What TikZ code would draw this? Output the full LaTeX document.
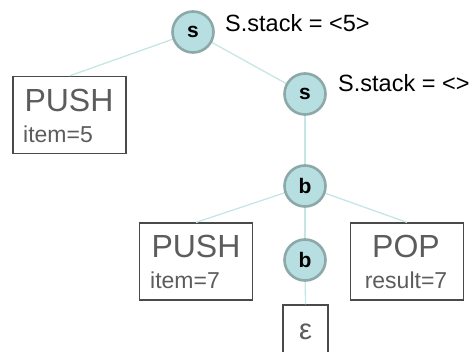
\documentclass[tikz,border=0pt]{standalone}
\usepackage{fontspec}
\setmainfont{Liberation Sans}
\definecolor{circfill}{HTML}{B7DFE1}
\definecolor{circborder}{HTML}{8CA8A8}
\definecolor{linkcol}{HTML}{C6E5E5}
\definecolor{boxborder}{HTML}{4A4A4A}
\definecolor{boxtext}{HTML}{5C5C5C}
\begin{document}
\begin{tikzpicture}[x=1pt,y=-1pt,
  circ/.style={circle, fill=circfill, draw=circborder, line width=2.6pt, minimum size=41pt, inner sep=0pt, font=\fontsize{21}{21}\selectfont\bfseries},
  opbox/.style={rectangle, draw=boxborder, line width=1.2pt, minimum width=113pt, minimum height=77pt, inner sep=0pt},
  bigtxt/.style={text=boxtext, inner sep=0pt, font=\fontsize{32}{32}\selectfont},
  smalltxt/.style={text=boxtext, inner sep=0pt, font=\fontsize{23}{23}\selectfont},
  lbl/.style={text=black, inner sep=0pt, font=\fontsize{23.5}{23.5}\selectfont},
  link/.style={draw=linkcol, line width=1.3pt}]
\useasboundingbox (0,0) rectangle (473,352);
% nodes
\node[opbox] (push1) at (69.5,115) {};
\node[opbox] (push2) at (196,261.5) {};
\node[opbox] (pop) at (407,261.5) {};
\node[rectangle, draw=boxborder, line width=1.2pt, minimum width=45pt, minimum height=60pt, inner sep=0pt] (eps) at (305.5,335) {};
% links
\coordinate (s1c) at (193,32);
\coordinate (s2c) at (305,94);
\coordinate (b1c) at (305,186);
\coordinate (b2c) at (305,260);
\draw[link] (s1c) -- (push1.north);
\draw[link] (s1c) -- (s2c);
\draw[link] (s2c) -- (b1c);
\draw[link] (b1c) -- (push2.north);
\draw[link] (b1c) -- (pop.north);
\draw[link] (b1c) -- (b2c);
\draw[link] (b2c) -- (eps.north);
% circles
\node[circ] (s1) at (s1c) {s};
\node[circ] (s2) at (s2c) {s};
\node[circ] (b1) at (b1c) {b};
\node[circ] (b2) at (b2c) {b};
% labels
\node[lbl, anchor=base west] (l1) at (225,32) {S.stack = <5>};
\node[lbl, anchor=base west] (l2) at (338,92) {S.stack = <>};
% box texts
\node[bigtxt, anchor=base] (push1t) at (69,112) {PUSH};
\node[smalltxt, anchor=base west] (push1i) at (23,143) {item=5};
\node[bigtxt, anchor=base] (push2t) at (196,258) {PUSH};
\node[smalltxt, anchor=base west] (push2i) at (150,288) {item=7};
\node[bigtxt, anchor=base] (popt) at (406,258) {POP};
\node[smalltxt, anchor=base] (popr) at (406,288) {result=7};
\node[text=boxtext, inner sep=0pt, font=\fontsize{29}{29}\selectfont, anchor=base] (epst) at (305.5,339) {ε};
\end{tikzpicture}
\end{document}
